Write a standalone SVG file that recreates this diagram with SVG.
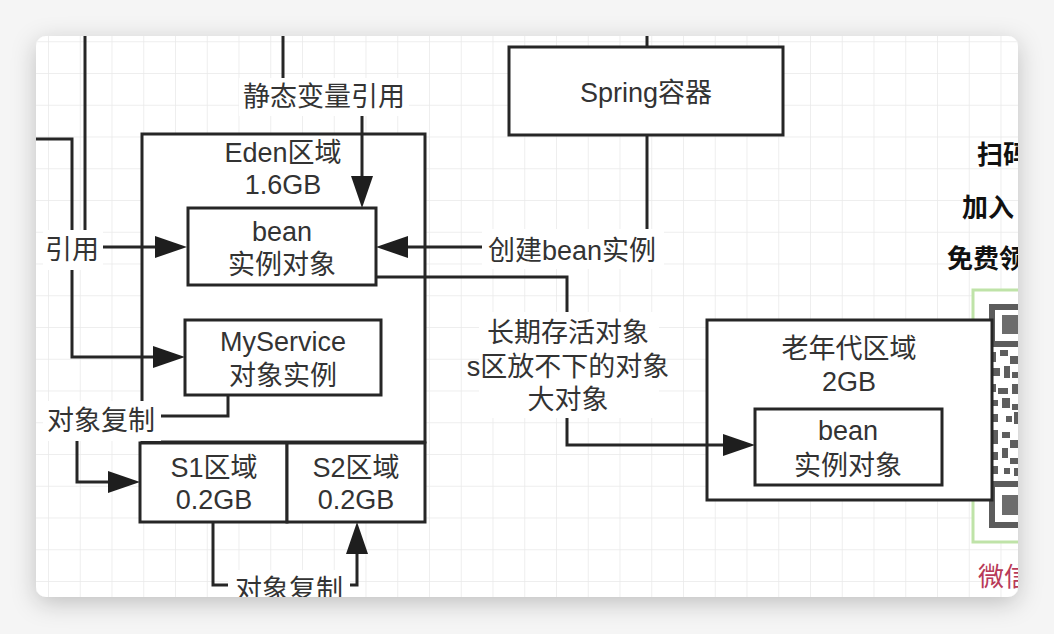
<svg xmlns="http://www.w3.org/2000/svg" width="1054" height="634" viewBox="0 0 1054 634">
<defs>
<style>
.t{font-family:"Liberation Sans","Noto Sans CJK SC",sans-serif;font-size:27px;fill:#333;text-anchor:middle;dominant-baseline:central}
.tb{font-family:"Noto Sans CJK SC","Liberation Sans",sans-serif;font-size:26px;fill:#111;font-weight:bold;dominant-baseline:central}
.box{fill:#fff;stroke:#262626;stroke-width:3}
.edge{fill:none;stroke:#262626;stroke-width:3}
.arr{marker-end:url(#ah)}
.lbg{fill:#fff}
</style>
<marker id="ah" markerUnits="userSpaceOnUse" markerWidth="34" markerHeight="24" refX="10" refY="12" orient="auto">
<path d="M0,1 L32,12 L0,23 Z" fill="#1e1e1e"/>
</marker>
<pattern id="grid" patternUnits="userSpaceOnUse" x="16.25" y="9.5" width="31.75" height="31.75">
<path d="M0,0 H31.75 M0,0 V31.75" fill="none" stroke="#e9e9e9" stroke-width="1.5"/>
</pattern>
<clipPath id="card"><rect x="36" y="36" width="982" height="561" rx="10"/></clipPath>
<filter id="sh" x="-10%" y="-10%" width="120%" height="130%">
<feDropShadow dx="0" dy="6" stdDeviation="12" flood-color="#000" flood-opacity="0.22"/>
</filter>
</defs>
<rect width="1054" height="634" fill="#f5f5f5"/>
<rect x="36" y="36" width="982" height="561" rx="10" fill="#fff" filter="url(#sh)"/>
<g clip-path="url(#card)">
<rect x="36" y="36" width="982" height="561" fill="url(#grid)"/>

<g id="side-text">
<text class="tb" x="977" y="152">扫码</text>
<text class="tb" x="962" y="205">加入</text>
<text class="tb" x="947" y="256">免费领</text>
<text class="tb" x="978" y="574" style="fill:#b83a58;font-weight:normal">微信</text>
</g>

<g id="qr">
<rect x="973" y="290" width="60" height="252" fill="#fff" stroke="#bfe3a8" stroke-width="3"/>
<rect x="992" y="307" width="40" height="37" fill="none" stroke="#5c5c5c" stroke-width="6"/>
<rect x="1002" y="315" width="20" height="19" fill="#6c6c6c"/>
<rect x="992" y="484" width="40" height="41" fill="none" stroke="#5c5c5c" stroke-width="6"/>
<rect x="1002" y="495" width="20" height="20" fill="#6c6c6c"/>
<g fill="#5e5e5e">
<rect x="990" y="352" width="6" height="10"/><rect x="1000" y="350" width="8" height="6"/><rect x="1010" y="356" width="8" height="8"/>
<rect x="992" y="368" width="8" height="8"/><rect x="1004" y="366" width="6" height="12"/><rect x="1012" y="372" width="6" height="6"/>
<rect x="990" y="384" width="6" height="8"/><rect x="998" y="388" width="10" height="6"/><rect x="1012" y="384" width="6" height="10"/>
<rect x="992" y="400" width="6" height="6"/><rect x="1002" y="398" width="8" height="10"/><rect x="1012" y="404" width="6" height="6"/>
<rect x="990" y="414" width="8" height="8"/><rect x="1006" y="416" width="6" height="6"/><rect x="1014" y="412" width="4" height="12"/>
<rect x="992" y="430" width="6" height="14"/><rect x="1002" y="432" width="8" height="6"/><rect x="1010" y="440" width="8" height="8"/>
<rect x="990" y="452" width="8" height="8"/><rect x="1002" y="448" width="6" height="10"/><rect x="1010" y="458" width="8" height="6"/>
<rect x="992" y="466" width="6" height="8"/><rect x="1004" y="468" width="6" height="6"/><rect x="1014" y="468" width="4" height="8"/>
</g>
</g>

<g id="spring">
<rect class="box" x="509" y="47" width="274" height="88"/>
<text class="t" x="646" y="93">Spring容器</text>
</g>

<g id="eden">
<rect class="box" x="142" y="134" width="283" height="308"/>
<text class="t" x="283" y="153">Eden区域</text>
<text class="t" x="283" y="185">1.6GB</text>
</g>

<g id="bean-eden">
<rect class="box" x="188" y="208" width="188" height="77"/>
<text class="t" x="282" y="232">bean</text>
<text class="t" x="282" y="265">实例对象</text>
</g>

<g id="myservice">
<rect class="box" x="185" y="320" width="196" height="75"/>
<text class="t" x="283" y="342">MyService</text>
<text class="t" x="283" y="376">对象实例</text>
</g>

<g id="s1">
<rect class="box" x="140" y="443" width="147" height="79"/>
<text class="t" x="214" y="468">S1区域</text>
<text class="t" x="214" y="500">0.2GB</text>
</g>

<g id="s2">
<rect class="box" x="287" y="443" width="138" height="79"/>
<text class="t" x="356" y="468">S2区域</text>
<text class="t" x="356" y="500">0.2GB</text>
</g>

<g id="old-gen">
<rect class="box" x="707" y="320" width="285" height="180"/>
<text class="t" x="849" y="349">老年代区域</text>
<text class="t" x="849" y="382">2GB</text>
</g>

<g id="bean-old">
<rect class="box" x="755" y="409" width="187" height="76"/>
<text class="t" x="848" y="431">bean</text>
<text class="t" x="848" y="466">实例对象</text>
</g>

<g id="connectors">
<path class="edge arr" d="M283,36 V97 H362 V186"/>
<path class="edge arr" d="M85,36 V247 H165"/>
<path class="edge arr" d="M36,139 H72 V357 H163"/>
<path class="edge arr" d="M647,135 V247 H398"/>
<path class="edge" d="M647,36 V47"/>
<path class="edge arr" d="M376,277 H567 V445 H733"/>
<path class="edge arr" d="M228,395 V416 H77 V482 H118"/>
<path class="edge arr" d="M213,522 V585 H357 V544"/>

<rect class="lbg" x="239" y="78" width="170" height="38"/>
<text class="t" x="324" y="97">静态变量引用</text>
<rect class="lbg" x="43" y="230" width="60" height="40"/>
<text class="t" x="72" y="250">引用</text>
<rect class="lbg" x="482" y="229" width="182" height="40"/>
<text class="t" x="572" y="251">创建bean实例</text>
<rect class="lbg" x="479" y="312" width="180" height="106"/>
<text class="t" x="568" y="333">长期存活对象</text>
<text class="t" x="568" y="367">s区放不下的对象</text>
<text class="t" x="568" y="400">大对象</text>
<rect class="lbg" x="43" y="401" width="118" height="40"/>
<text class="t" x="101" y="421">对象复制</text>
<rect class="lbg" x="228" y="570" width="122" height="40"/>
<text class="t" x="289" y="590">对象复制</text>
</g>
</g>
</svg>
